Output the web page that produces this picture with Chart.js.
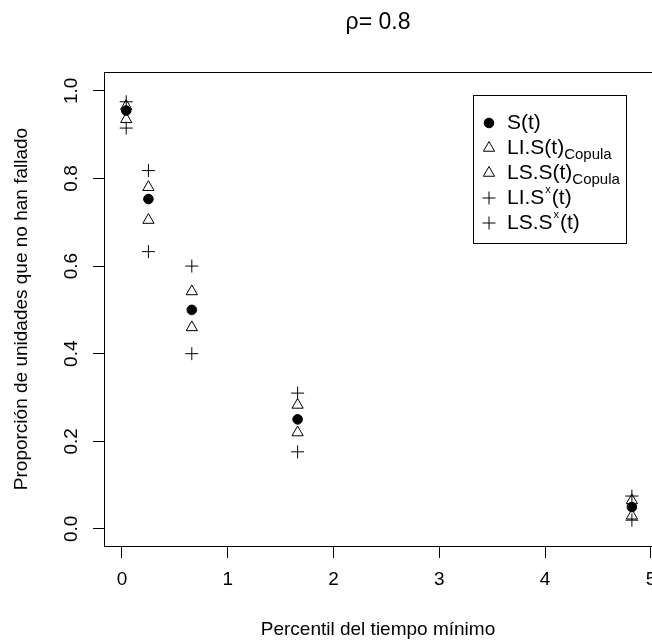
<!DOCTYPE html>
<html><head><meta charset="utf-8">
<script src="https://cdn.jsdelivr.net/npm/chart.js@4.4.0/dist/chart.umd.min.js"></script>
<style>html,body{margin:0;padding:0;background:#fff}#wrap{width:652px;height:644px}</style>
</head><body><div id="wrap"><canvas id="c" width="652" height="644"></canvas></div>
<script>
// ---- data ----
const percentiles = [0.04, 0.25, 0.66, 1.66, 4.82];
const sValues   = [0.955, 0.753, 0.50, 0.25, 0.05];
const liCopula  = [0.935, 0.705, 0.46, 0.22, 0.03];
const lsCopula  = [0.965, 0.780, 0.542, 0.283, 0.065];
const liX       = [0.915, 0.633, 0.40, 0.176, 0.02];
const lsX       = [0.975, 0.818, 0.60, 0.31, 0.075];
const xTicks = [0, 1, 2, 3, 4, 5];
const xTickLabels = ["0", "1", "2", "3", "4", "5"];
const yTicks = [0, 0.2, 0.4, 0.6, 0.8, 1.0];
const yTickLabels = ["0.0", "0.2", "0.4", "0.6", "0.8", "1.0"];
const titleText = "ρ= 0.8";
const xTitle = "Percentil del tiempo mínimo";
const yTitle = "Proporción de unidades que no han fallado";
const legendItems = [
  [{t: "S(t)"}],
  [{t: "LI.S(t)"}, {t: "Copula", sub: true}],
  [{t: "LS.S(t)"}, {t: "Copula", sub: true}],
  [{t: "LI.S"}, {t: "x", sup: true}, {t: "(t)"}],
  [{t: "LS.S"}, {t: "x", sup: true}, {t: "(t)"}]
];

const FONT = "'Liberation Sans', Arial, Helvetica, sans-serif";

function mk(data) { return percentiles.map((x, i) => ({x: x, y: data[i]})); }

const datasets = [
  {label: "S(t)", data: mk(sValues), pointStyle: 'circle', pointRadius: 4.8, backgroundColor: '#000', borderColor: '#000', borderWidth: 1},
  {label: "LI.S(t)Copula", data: mk(liCopula), pointStyle: 'triangle', pointRadius: 6.5, backgroundColor: 'rgba(0,0,0,0)', borderColor: '#000', borderWidth: 1},
  {label: "LS.S(t)Copula", data: mk(lsCopula), pointStyle: 'triangle', pointRadius: 6.5, backgroundColor: 'rgba(0,0,0,0)', borderColor: '#000', borderWidth: 1},
  {label: "LI.Sx(t)", data: mk(liX), pointStyle: 'cross', pointRadius: 6.5, backgroundColor: 'rgba(0,0,0,0)', borderColor: '#000', borderWidth: 1},
  {label: "LS.Sx(t)", data: mk(lsX), pointStyle: 'cross', pointRadius: 6.5, backgroundColor: 'rgba(0,0,0,0)', borderColor: '#000', borderWidth: 1}
];

const boxPlugin = {
  id: 'box',
  afterDraw(chart) {
    const ctx = chart.ctx, a = chart.chartArea;
    ctx.save();
    ctx.strokeStyle = '#000'; ctx.lineWidth = 1;
    ctx.strokeRect(Math.round(a.left) + 0.5, Math.round(a.top) + 0.5, Math.round(a.right - a.left), Math.round(a.bottom - a.top));
    ctx.restore();
  }
};

const legendPlugin = {
  id: 'rlegend',
  afterDraw(chart) {
    const ctx = chart.ctx;
    const bx = 473, by = 95, bw = 153, bh = 148;
    ctx.save();
    ctx.fillStyle = '#fff';
    ctx.fillRect(bx, by, bw, bh);
    ctx.strokeStyle = '#000'; ctx.lineWidth = 1;
    ctx.strokeRect(bx + 0.5, by + 0.5, bw, bh);
    const rows = [123, 148, 173, 198, 223];
    legendItems.forEach((parts, i) => {
      const ds = chart.data.datasets[i];
      const y = rows[i];
      ctx.fillStyle = ds.backgroundColor;
      ctx.strokeStyle = ds.borderColor;
      ctx.lineWidth = 1;
      Chart.helpers.drawPoint(ctx, {pointStyle: ds.pointStyle, radius: ds.pointRadius, borderWidth: 1, rotation: 0}, 489, y);
      let x = 507;
      ctx.fillStyle = '#000';
      ctx.textBaseline = 'middle';
      ctx.textAlign = 'left';
      parts.forEach(p => {
        let size = 21, dy = 0;
        if (p.sub) { size = 15; dy = 7; }
        if (p.sup) { size = 11; dy = -8; }
        ctx.font = size + 'px ' + FONT;
        ctx.fillText(p.t, x + (p.sup ? 1 : 0), y + dy);
        x += ctx.measureText(p.t).width + (p.sup ? 2 : 0);
      });
    });
    ctx.restore();
  }
};

new Chart(document.getElementById('c'), {
  type: 'scatter',
  data: {datasets: datasets},
  plugins: [boxPlugin, legendPlugin],
  options: {
    responsive: false,
    devicePixelRatio: 1,
    animation: false,
    layout: {padding: 0, autoPadding: false},
    plugins: {
      legend: {display: false},
      tooltip: {enabled: false},
      title: {
        display: true, text: titleText, fullSize: false, color: '#000',
        font: {family: FONT, size: 23, weight: 'normal'},
        padding: {top: 9.2, bottom: 35.2}
      }
    },
    scales: {
      x: {
        type: 'linear', position: 'bottom', min: -0.17, max: 5.01,
        afterBuildTicks(s) { s.ticks = xTicks.map(v => ({value: v})); },
        afterFit(s) { s.height = 98; s.paddingLeft = 0; s.paddingRight = 0; },
        ticks: {
          color: '#000', font: {family: FONT, size: 19}, padding: 10, maxRotation: 0, minRotation: 0,
          callback(v) { const i = xTicks.indexOf(v); return i >= 0 ? xTickLabels[i] : ''; }
        },
        grid: {display: true, drawOnChartArea: false, drawTicks: true, tickLength: 12, color: '#000', tickColor: '#000', lineWidth: 1},
        border: {display: true, color: '#000', width: 1},
        title: {display: true, text: xTitle, color: '#000', font: {family: FONT, size: 19}, padding: {top: 0, bottom: 2.6}}
      },
      y: {
        type: 'linear', position: 'left', min: -0.039, max: 1.043,
        afterBuildTicks(s) { s.ticks = yTicks.map(v => ({value: v})); },
        afterFit(s) { s.width = 104; s.paddingTop = 0; s.paddingBottom = 0; },
        ticks: {
          color: '#000', font: {family: FONT, size: 19}, padding: 8, minRotation: 90, maxRotation: 90, crossAlign: 'center',
          callback(v) { const i = yTicks.findIndex(t => Math.abs(t - v) < 1e-9); return i >= 0 ? yTickLabels[i] : ''; }
        },
        grid: {display: true, drawOnChartArea: false, drawTicks: true, tickLength: 11, color: '#000', tickColor: '#000', lineWidth: 1},
        border: {display: true, color: '#000', width: 1},
        title: {display: true, text: yTitle, color: '#000', font: {family: FONT, size: 19}, padding: {top: 10.6, bottom: 0}}
      }
    }
  }
});
</script>
</body></html>
